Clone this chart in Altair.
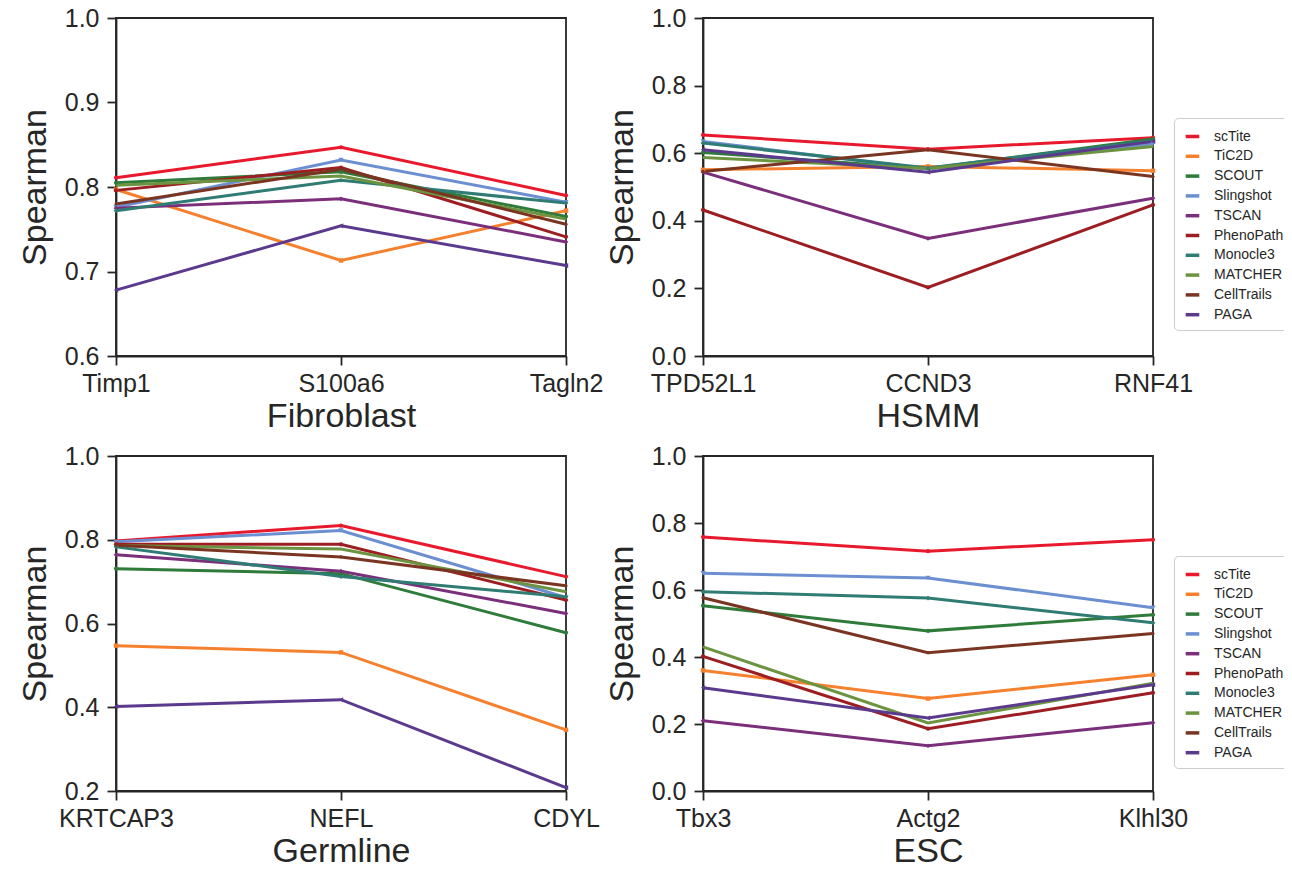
import altair as alt
import pandas as pd

methods = ["scTite", "TiC2D", "SCOUT", "Slingshot", "TSCAN", "PhenoPath",
           "Monocle3", "MATCHER", "CellTrails", "PAGA"]
colors = ["#e8192c", "#f5812f", "#2e7b3a", "#6b8fd0", "#7b2f7b", "#9c1e22",
          "#2f7c74", "#6c9440", "#7a3522", "#5b3a8e"]
shapes = ["circle", "square", "circle", "triangle-down", "diamond", "circle",
          "diamond", "circle", "circle", "triangle-left"]
marker_sizes = [18, 20, 18, 26, 22, 18, 22, 2, 10, 26]

# Fibroblast
fib_genes = ["Timp1", "S100a6", "Tagln2"]
fib_scTite = [0.811, 0.847, 0.790]
fib_TiC2D = [0.797, 0.713, 0.772]
fib_SCOUT = [0.805, 0.818, 0.765]
fib_Slingshot = [0.776, 0.832, 0.782]
fib_TSCAN = [0.775, 0.786, 0.735]
fib_PhenoPath = [0.796, 0.823, 0.741]
fib_Monocle3 = [0.772, 0.808, 0.781]
fib_MATCHER = [0.802, 0.813, 0.762]
fib_CellTrails = [0.780, 0.821, 0.756]
fib_PAGA = [0.678, 0.754, 0.707]

# HSMM
hsmm_genes = ["TPD52L1", "CCND3", "RNF41"]
hsmm_scTite = [0.654, 0.612, 0.646]
hsmm_TiC2D = [0.551, 0.561, 0.548]
hsmm_SCOUT = [0.602, 0.555, 0.642]
hsmm_Slingshot = [0.635, 0.553, 0.628]
hsmm_TSCAN = [0.544, 0.348, 0.467]
hsmm_PhenoPath = [0.432, 0.203, 0.447]
hsmm_Monocle3 = [0.630, 0.556, 0.637]
hsmm_MATCHER = [0.587, 0.555, 0.620]
hsmm_CellTrails = [0.546, 0.610, 0.531]
hsmm_PAGA = [0.610, 0.544, 0.635]

# Germline
germ_genes = ["KRTCAP3", "NEFL", "CDYL"]
germ_scTite = [0.797, 0.834, 0.712]
germ_TiC2D = [0.547, 0.531, 0.346]
germ_SCOUT = [0.731, 0.719, 0.578]
germ_Slingshot = [0.795, 0.822, 0.662]
germ_TSCAN = [0.764, 0.725, 0.624]
germ_PhenoPath = [0.789, 0.789, 0.656]
germ_Monocle3 = [0.783, 0.712, 0.664]
germ_MATCHER = [0.786, 0.778, 0.676]
germ_CellTrails = [0.787, 0.759, 0.690]
germ_PAGA = [0.402, 0.418, 0.208]

# ESC
esc_genes = ["Tbx3", "Actg2", "Klhl30"]
esc_scTite = [0.758, 0.716, 0.750]
esc_TiC2D = [0.360, 0.276, 0.347]
esc_SCOUT = [0.553, 0.478, 0.526]
esc_Slingshot = [0.650, 0.636, 0.547]
esc_TSCAN = [0.210, 0.135, 0.204]
esc_PhenoPath = [0.402, 0.186, 0.293]
esc_Monocle3 = [0.595, 0.576, 0.502]
esc_MATCHER = [0.430, 0.203, 0.322]
esc_CellTrails = [0.577, 0.413, 0.470]
esc_PAGA = [0.308, 0.218, 0.317]

FONT = "Liberation Sans"
INK = "#262626"


def make_df(genes, series):
    rows = []
    for m, vals in zip(methods, series):
        for i, (g, v) in enumerate(zip(genes, vals)):
            rows.append({"gene": g, "method": m, "value": v, "order": i})
    return pd.DataFrame(rows)


def panel(title, genes, series, ymin, ystep, legend, height):
    df = make_df(genes, series)
    ticks = []
    t = ymin
    while t <= 1.0001:
        ticks.append(round(t, 2))
        t += ystep
    x = alt.X("gene:N", sort=genes, scale=alt.Scale(type="point", padding=0),
              axis=alt.Axis(title=title, labelAngle=0, labelPadding=6, titlePadding=3))
    y = alt.Y("value:Q", scale=alt.Scale(domain=[ymin, 1.0], nice=False, zero=False),
              axis=alt.Axis(title="Spearman", values=ticks, format=".1f",
                            labelPadding=8, titlePadding=12))
    if legend:
        leg = alt.Legend(title=None, orient="none", legendX=471, legendY=100,
                         symbolType="M-0.8,0H0.8", symbolSize=289,
                         symbolStrokeWidth=3.5, labelFontSize=14, labelFont=FONT,
                         labelColor=INK, rowPadding=1.8, labelOffset=11,
                         padding=8, strokeColor="#cccccc", cornerRadius=4,
                         fillColor="white", offset=0)
    else:
        leg = None
    base = alt.Chart(df)
    line = base.mark_line(strokeWidth=3).encode(
        x=x, y=y,
        color=alt.Color("method:N", scale=alt.Scale(domain=methods, range=colors),
                        sort=methods, legend=leg),
        order="order:Q")
    layers = [line]
    for m, c, s, sz in zip(methods, colors, shapes, marker_sizes):
        layers.append(
            base.transform_filter(alt.datum.method == m)
            .mark_point(filled=True, opacity=1, shape=s, size=sz, color=c)
            .encode(x=x, y=y)
        )
    return alt.layer(*layers).properties(width=450, height=height)


p1 = panel("Fibroblast", fib_genes,
           [fib_scTite, fib_TiC2D, fib_SCOUT, fib_Slingshot, fib_TSCAN, fib_PhenoPath,
            fib_Monocle3, fib_MATCHER, fib_CellTrails, fib_PAGA], 0.6, 0.1, False, 338)
p2 = panel("HSMM", hsmm_genes,
           [hsmm_scTite, hsmm_TiC2D, hsmm_SCOUT, hsmm_Slingshot, hsmm_TSCAN, hsmm_PhenoPath,
            hsmm_Monocle3, hsmm_MATCHER, hsmm_CellTrails, hsmm_PAGA], 0.0, 0.2, True, 338)
p3 = panel("Germline", germ_genes,
           [germ_scTite, germ_TiC2D, germ_SCOUT, germ_Slingshot, germ_TSCAN, germ_PhenoPath,
            germ_Monocle3, germ_MATCHER, germ_CellTrails, germ_PAGA], 0.2, 0.2, False, 335)
p4 = panel("ESC", esc_genes,
           [esc_scTite, esc_TiC2D, esc_SCOUT, esc_Slingshot, esc_TSCAN, esc_PhenoPath,
            esc_Monocle3, esc_MATCHER, esc_CellTrails, esc_PAGA], 0.0, 0.2, True, 335)

chart = alt.concat(p1, p2, p3, p4, columns=2, spacing={"row": 100, "column": 137},
                   bounds="flush").resolve_scale(
    color="independent"
).resolve_legend(color="independent").properties(
    padding={"top": -3, "left": 9, "right": -10, "bottom": -7}
).configure(
    font=FONT
).configure_view(
    stroke=INK, strokeWidth=1.8
).configure_axis(
    grid=False, domainColor=INK, domainWidth=1.8, tickColor=INK, tickWidth=1.8,
    tickSize=9, labelFont=FONT, labelFontSize=25, labelColor=INK,
    titleFont=FONT, titleFontSize=34, titleFontWeight="normal", titleColor=INK
)

chart.save("out.html", embed_options={"renderer": "svg", "actions": False})
